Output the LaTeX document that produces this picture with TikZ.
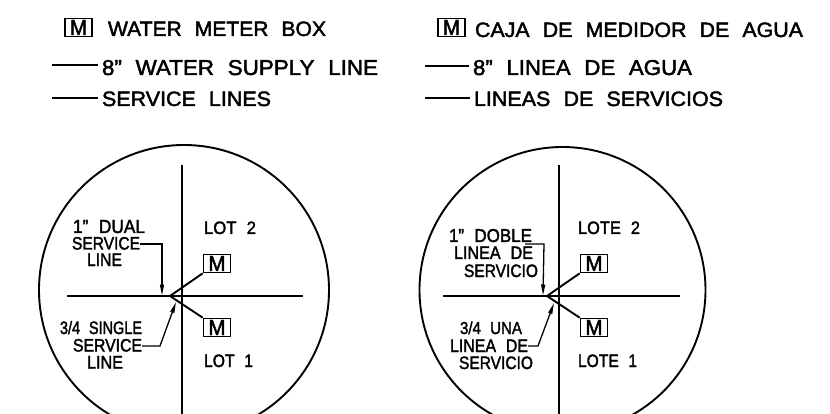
\documentclass[tikz,border=0pt]{standalone}
\usepackage{fontspec}
\setmainfont[WordSpace=2.2,FakeBold=2]{Liberation Sans}
\usetikzlibrary{arrows.meta}
\newcommand{\fitt}[3]{\resizebox{#1pt}{#2pt}{#3}}
\newcommand{\metertext}{\fitt{17}{15}{M}}
\tikzset{
  x=1pt,y=-1pt,
  lbl/.style={anchor=base west,inner sep=0pt,outer sep=0pt},
  meter/.style={draw=black,line width=1.7pt,minimum width=27pt,minimum height=18pt,inner sep=0pt},
  pipe/.style={draw=black,line width=1.9pt},
  keyline/.style={pipe,shorten >=4pt},
  leader/.style={draw=black,line width=1.3pt,-{Triangle[length=11pt,width=4pt]}},
  ring/.style={draw=black,line width=1.9pt}
}
\begin{document}
\begin{tikzpicture}
\clip (0,0) rectangle (830,414);
\fill[white] (0,0) rectangle (830,414);
% legend, English
\node[meter] (lmE) at (78.5,27.5) {\metertext};
\node[lbl] (t1E) at (108,36) {\fitt{218}{14.5}{WATER METER BOX}};
\node[lbl] (t2E) at (102,75) {\fitt{276}{15}{8" WATER SUPPLY LINE}};
\node[lbl] (t3E) at (102,106) {\fitt{169}{14.5}{SERVICE LINES}};
\coordinate (l2E) at (52,65);
\coordinate (l3E) at (52,98);
\draw[keyline] (l2E) -- (l2E -| t2E.west);
\draw[keyline] (l3E) -- (l3E -| t3E.west);
% legend, Spanish
\node[meter] (lmS) at (451.5,27.5) {\metertext};
\node[lbl] (t1S) at (475,37) {\fitt{328}{14.5}{CAJA DE MEDIDOR DE AGUA}};
\node[lbl] (t2S) at (473,75) {\fitt{219}{15}{8" LINEA DE AGUA}};
\node[lbl] (t3S) at (474,106) {\fitt{249}{14.5}{LINEAS DE SERVICIOS}};
\coordinate (l2S) at (425,66);
\coordinate (l3S) at (425,98);
\draw[keyline] (l2S) -- (l2S -| t2S.west);
\draw[keyline] (l3S) -- (l3S -| t3S.west);
% left detail
\coordinate (cE) at (184,290);
\draw[ring] (cE) circle[radius=145];
\coordinate (vtE) at (182,165);
\coordinate (vbE) at (182,414);
\coordinate (hlE) at (67,296);
\coordinate (hrE) at (303,296);
\coordinate (apE) at (170,296);
\draw[pipe] (vtE) -- (vbE);
\draw[pipe] (hlE) -- (hrE);
\node[meter] (m2E) at (217,263.5) {\metertext};
\node[meter] (m1E) at (217,327.5) {\metertext};
\draw[pipe] (apE) -- (m2E.south west);
\draw[pipe] (apE) -- (m1E.north west);
\node[lbl] (a1) at (73,233) {\fitt{72}{13}{1" DUAL}};
\node[lbl] (a2) at (72,249.5) {\fitt{68}{12.5}{SERVICE}};
\node[lbl] (a3) at (87,266) {\fitt{35}{12.5}{LINE}};
\node[lbl] (b1) at (60,334) {\fitt{82}{13}{3/4 SINGLE}};
\node[lbl] (b2) at (73,351.5) {\fitt{69}{12.5}{SERVICE}};
\node[lbl] (b3) at (87,368.5) {\fitt{36}{12.5}{LINE}};
\node[lbl] (lot2) at (204,234) {\fitt{52}{12.5}{LOT 2}};
\node[lbl] (lot1) at (204,367) {\fitt{49}{12.5}{LOT 1}};
\coordinate (dE) at (162,244);
\coordinate (dtE) at (162,295.5);
\coordinate (sE) at (160,346);
\coordinate (stE) at (176,302);
\draw[leader] (a2.east |- dE) -- (dE) -- (dtE);
\draw[leader] (b2.east |- sE) -- (sE) -- (stE);
% right detail
\coordinate (cS) at (562.5,290);
\draw[ring] (cS) circle[radius=143];
\coordinate (vtS) at (559,165);
\coordinate (vbS) at (559,414);
\coordinate (hlS) at (443,296);
\coordinate (hrS) at (680,296);
\coordinate (apS) at (547,296);
\draw[pipe] (vtS) -- (vbS);
\draw[pipe] (hlS) -- (hrS);
\node[meter] (m2S) at (594,263.5) {\metertext};
\node[meter] (m1S) at (594,327.5) {\metertext};
\draw[pipe] (apS) -- (m2S.south west);
\draw[pipe] (apS) -- (m1S.north west);
\node[lbl] (c1) at (449,242) {\fitt{83}{13}{1" DOBLE}};
\node[lbl] (c2) at (454,259) {\fitt{79}{12.5}{LINEA DE}};
\node[lbl] (c3) at (464,277) {\fitt{74}{12.5}{SERVICIO}};
\node[lbl] (d1) at (460,334) {\fitt{62}{12.5}{3/4 UNA}};
\node[lbl] (d2) at (450,352) {\fitt{78}{12.5}{LINEA DE}};
\node[lbl] (d3) at (459,369) {\fitt{74}{12.5}{SERVICIO}};
\node[lbl] (lote2) at (578,234) {\fitt{62}{12.5}{LOTE 2}};
\node[lbl] (lote1) at (578,367) {\fitt{59}{12.5}{LOTE 1}};
\coordinate (dS) at (544,244);
\coordinate (dtS) at (543,295.5);
\coordinate (dsS) at (525,244);
\coordinate (sS) at (538,346);
\coordinate (stS) at (554,303);
\draw[leader] (dsS) -- (dS) -- (dtS);
\draw[leader] (d2.east |- sS) -- (sS) -- (stS);
\end{tikzpicture}
\end{document}
